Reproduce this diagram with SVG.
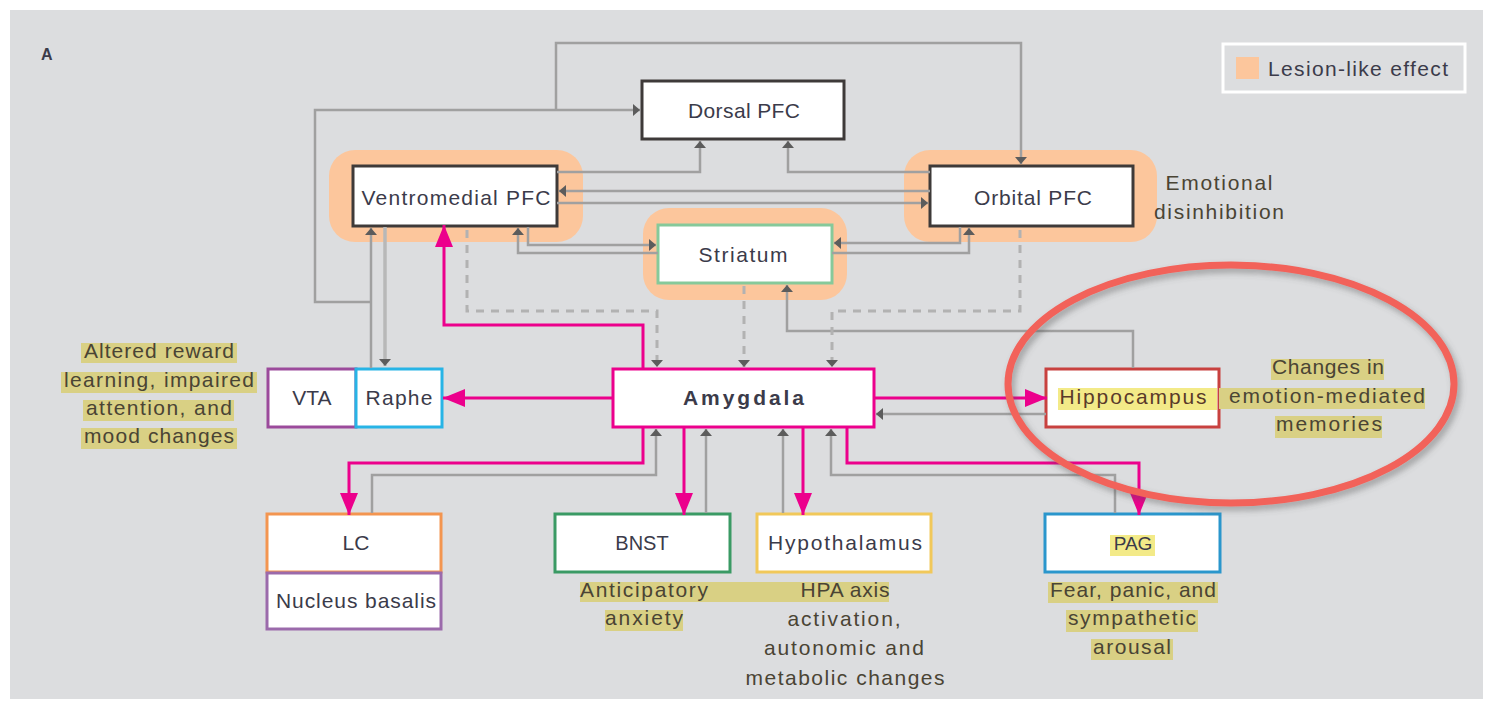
<svg xmlns="http://www.w3.org/2000/svg" width="1493" height="708" viewBox="0 0 1493 708">
<style>
text{font-family:"Liberation Sans",Arial,sans-serif;fill:#3b3b4a;font-size:21px}
.lbl{text-anchor:middle}
.ann{text-anchor:middle;fill:#4a4434}
.box{fill:#ffffff;stroke-width:3}
.halo{fill:#fcc69c}
.g{fill:none;stroke:#a0a0a0;stroke-width:2.5}
.gl{fill:none;stroke:#b8b8b8;stroke-width:3.5}
.d{fill:none;stroke:#b2b2b2;stroke-width:3;stroke-dasharray:8 7}
.m{fill:none;stroke:#ec008c;stroke-width:3}
.hl{fill:#d9d084}
.hy{fill:#f3ea88}
</style>
<defs>
<marker id="ga" markerUnits="userSpaceOnUse" markerWidth="10" markerHeight="12" refX="7" refY="6" orient="auto">
<path d="M0,0 L7,6 L0,12 z" fill="#5c5c5c"/>
</marker>
<marker id="ma" markerUnits="userSpaceOnUse" markerWidth="24" markerHeight="20" refX="22" refY="9" orient="auto">
<path d="M0,0 L22,9 L0,18 z" fill="#ec008c"/>
</marker>
<filter id="sh" x="-10%" y="-10%" width="120%" height="120%">
<feDropShadow dx="3" dy="4" stdDeviation="3" flood-color="#555" flood-opacity="0.45"/>
</filter>
</defs>
<rect x="0" y="0" width="1493" height="708" fill="#ffffff"/>
<rect x="10" y="10" width="1473" height="689" fill="#dcdddf"/>
<text x="41" y="60" style="font-weight:bold;font-size:16px">A</text>

<g id="legend">
<rect x="1223" y="44" width="242" height="48" fill="none" stroke="#ffffff" stroke-width="3"/>
<rect x="1236" y="57" width="23" height="22" fill="#fcc69c"/>
<text x="1268" y="76" textLength="180" lengthAdjust="spacing">Lesion-like effect</text>
</g>

<g id="halos">
<rect class="halo" x="329" y="150" width="254" height="92" rx="26"/>
<rect class="halo" x="904" y="150" width="253" height="92" rx="26"/>
<rect class="halo" x="643" y="208" width="204" height="92" rx="26"/>
</g>

<g id="dorsal-pfc">
<rect class="box" x="642" y="81" width="202" height="58" stroke="#3e3a39" stroke-width="3.5"/>
<text class="lbl" x="744" y="118" textLength="112" lengthAdjust="spacing">Dorsal PFC</text>
</g>
<g id="ventromedial-pfc">
<rect class="box" x="353" y="166" width="204" height="60" stroke="#3e3a39" stroke-width="3.5"/>
<text class="lbl" x="456" y="205" textLength="189" lengthAdjust="spacing">Ventromedial PFC</text>
</g>
<g id="orbital-pfc">
<rect class="box" x="930" y="166" width="203" height="60" stroke="#3e3a39" stroke-width="3.5"/>
<text class="lbl" x="1033" y="205" textLength="118" lengthAdjust="spacing">Orbital PFC</text>
</g>
<g id="emotional-note">
<text class="ann" x="1219" y="190" textLength="107" lengthAdjust="spacing">Emotional</text>
<text class="ann" x="1219" y="219" textLength="130" lengthAdjust="spacing">disinhibition</text>
</g>
<g id="striatum">
<rect class="box" x="658" y="225" width="174" height="58" stroke="#86c99a"/>
<text class="lbl" x="743" y="262" textLength="89" lengthAdjust="spacing">Striatum</text>
</g>

<g id="vta">
<rect class="box" x="268" y="369" width="88" height="58" stroke="#9b4a9b"/>
<text class="lbl" x="312" y="405">VTA</text>
</g>
<g id="raphe">
<rect class="box" x="356" y="369" width="86" height="58" stroke="#27b4e6"/>
<text class="lbl" x="399" y="405" textLength="67" lengthAdjust="spacing">Raphe</text>
</g>
<g id="vta-raphe-note">
<rect class="hl" x="81" y="343" width="156" height="20"/>
<rect class="hl" x="61" y="372" width="196" height="21"/>
<rect class="hl" x="83" y="400" width="151" height="21"/>
<rect class="hl" x="81" y="428" width="156" height="21"/>
<text class="ann" x="159" y="358" textLength="150" lengthAdjust="spacing">Altered reward</text>
<text class="ann" x="159" y="387" textLength="190" lengthAdjust="spacing">learning, impaired</text>
<text class="ann" x="159" y="415" textLength="146" lengthAdjust="spacing">attention, and</text>
<text class="ann" x="159" y="443" textLength="150" lengthAdjust="spacing">mood changes</text>
</g>

<g id="amygdala">
<rect class="box" x="613" y="369" width="261" height="58" stroke="#ec008c"/>
<text class="lbl" x="743.5" y="405" style="font-weight:bold" textLength="121" lengthAdjust="spacing">Amygdala</text>
</g>

<g id="hippocampus">
<rect class="box" x="1046" y="369" width="173" height="58" stroke="#c8413f"/>
<rect class="hy" x="1058" y="388" width="159" height="22"/>
<text class="lbl" x="1133" y="404" textLength="147" lengthAdjust="spacing" style="fill:#5a3a2a">Hippocampus</text>
</g>
<g id="hippocampus-note">
<rect class="hl" x="1271" y="359" width="113" height="21"/>
<rect class="hl" x="1219" y="388" width="206" height="21"/>
<rect class="hl" x="1275" y="416" width="107" height="22"/>
<text class="ann" x="1328" y="374" textLength="112" lengthAdjust="spacing">Changes in</text>
<text class="ann" x="1327" y="403" textLength="196" lengthAdjust="spacing">emotion-mediated</text>
<text class="ann" x="1329" y="431" textLength="106" lengthAdjust="spacing">memories</text>
</g>

<g id="lc">
<rect class="box" x="267" y="514" width="174" height="58" stroke="#f39550"/>
<text class="lbl" x="356" y="550">LC</text>
</g>
<g id="nucleus-basalis">
<rect class="box" x="267" y="573" width="174" height="56" stroke="#9b6aab"/>
<text class="lbl" x="356" y="608" textLength="160" lengthAdjust="spacing">Nucleus basalis</text>
</g>
<g id="bnst">
<rect class="box" x="555" y="514" width="175" height="58" stroke="#3a9a64"/>
<text class="lbl" x="642" y="550" style="font-size:20px">BNST</text>
</g>
<g id="hypothalamus">
<rect class="box" x="757" y="514" width="174" height="58" stroke="#f1c85a"/>
<text class="lbl" x="845" y="550" textLength="154" lengthAdjust="spacing">Hypothalamus</text>
</g>
<g id="pag">
<rect class="box" x="1045" y="514" width="175" height="58" stroke="#2a96cc"/>
<rect class="hy" x="1110" y="535" width="45" height="21"/>
<text class="lbl" x="1133" y="550" style="font-size:19px">PAG</text>
</g>

<g id="bnst-hypo-notes">
<rect class="hl" x="580" y="582" width="309" height="20"/>
<rect class="hl" x="605" y="610" width="78" height="21"/>
<text class="ann" x="644" y="597" textLength="128" lengthAdjust="spacing">Anticipatory</text>
<text class="ann" x="644" y="625" textLength="78" lengthAdjust="spacing">anxiety</text>
<text class="ann" x="845" y="597" textLength="89" lengthAdjust="spacing">HPA axis</text>
<text class="ann" x="844" y="626" textLength="113" lengthAdjust="spacing">activation,</text>
<text class="ann" x="844" y="655" textLength="160" lengthAdjust="spacing">autonomic and</text>
<text class="ann" x="845" y="685" textLength="199" lengthAdjust="spacing">metabolic changes</text>
</g>
<g id="pag-note">
<rect class="hl" x="1048" y="582" width="170" height="21"/>
<rect class="hl" x="1066" y="610" width="132" height="22"/>
<rect class="hl" x="1091" y="639" width="82" height="21"/>
<text class="ann" x="1133" y="597" textLength="166" lengthAdjust="spacing">Fear, panic, and</text>
<text class="ann" x="1132" y="625" textLength="128" lengthAdjust="spacing">sympathetic</text>
<text class="ann" x="1132" y="654" textLength="78" lengthAdjust="spacing">arousal</text>
</g>

<g id="connectors">
<path class="g" d="M371,368 V228" marker-end="url(#ga)"/>
<path class="g" d="M371,302 H315 V110 H640" marker-end="url(#ga)"/>
<path class="g" d="M556,110 V43 H1021 V164" marker-end="url(#ga)"/>
<path class="gl" d="M385,227 V366" marker-end="url(#ga)"/>
<path class="g" d="M557,172 H700 V141" marker-end="url(#ga)"/>
<path class="g" d="M930,172 H788 V141" marker-end="url(#ga)"/>
<path class="g" d="M930,191 H559" marker-end="url(#ga)"/>
<path class="g" d="M557,203 H928" marker-end="url(#ga)"/>
<path class="g" d="M658,253 H518 V228" marker-end="url(#ga)"/>
<path class="g" d="M528,227 V245 H656" marker-end="url(#ga)"/>
<path class="g" d="M960,227 V243 H834" marker-end="url(#ga)"/>
<path class="g" d="M832,253 H969 V228" marker-end="url(#ga)"/>
<path class="g" d="M1133,368 V331 H787 V285" marker-end="url(#ga)"/>
<path class="g" d="M1046,414 H876" marker-end="url(#ga)"/>
<path class="g" d="M372,513 V475 H656 V429" marker-end="url(#ga)"/>
<path class="g" d="M706,513 V429" marker-end="url(#ga)"/>
<path class="g" d="M783,513 V429" marker-end="url(#ga)"/>
<path class="g" d="M1115,513 V475 H831 V429" marker-end="url(#ga)"/>
<path class="d" d="M467,230 V311 H657 V367" marker-end="url(#ga)"/>
<path class="d" d="M744,286 V367" marker-end="url(#ga)"/>
<path class="d" d="M1020,230 V311 H832 V367" marker-end="url(#ga)"/>
<path class="m" d="M613,398 H443" marker-end="url(#ma)"/>
<path class="m" d="M643,369 V325 H444 V225" marker-end="url(#ma)"/>
<path class="m" d="M874,398 H1047" marker-end="url(#ma)"/>
<path class="m" d="M643,427 V463 H349 V515" marker-end="url(#ma)"/>
<path class="m" d="M684,427 V515" marker-end="url(#ma)"/>
<path class="m" d="M803,427 V515" marker-end="url(#ma)"/>
<path class="m" d="M847,427 V463 H1139 V515" marker-end="url(#ma)"/>
</g>

<ellipse cx="1231" cy="384" rx="223" ry="119" fill="none" stroke="#f2625a" stroke-width="7" filter="url(#sh)"/>
</svg>
